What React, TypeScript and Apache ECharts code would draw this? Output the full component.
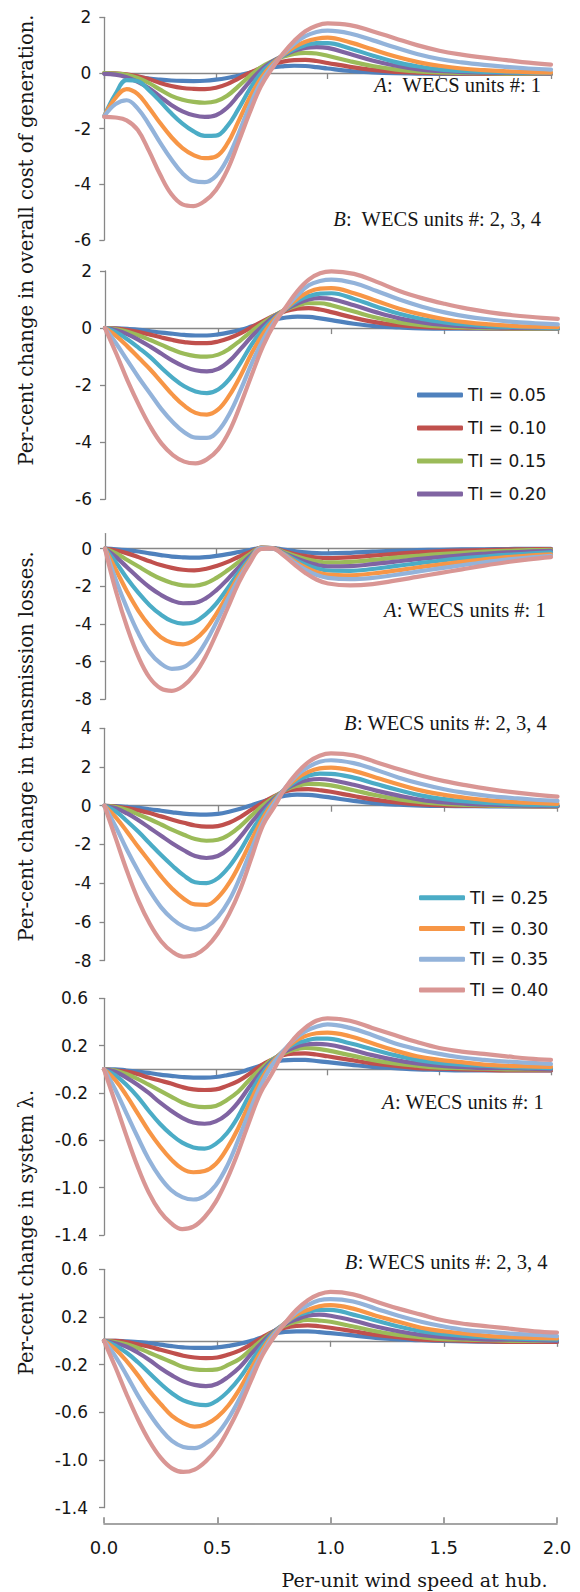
import React, { useEffect, useRef } from "react";
import * as echarts from "echarts";

// Per-unit wind speed at hub (x samples)
const windSpeed = [0, 0.05, 0.1, 0.15, 0.2, 0.25, 0.3, 0.35, 0.4, 0.45, 0.5, 0.55, 0.6, 0.65, 0.7, 0.75, 0.8, 0.85, 0.9, 0.95, 1.0, 1.1, 1.2, 1.3, 1.4, 1.5, 1.6, 1.7, 1.8, 1.9, 2.0];

const tiNames = ["TI = 0.05", "TI = 0.10", "TI = 0.15", "TI = 0.20", "TI = 0.25", "TI = 0.30", "TI = 0.35", "TI = 0.40"];
const tiColors = ["#4F81BD", "#C0504D", "#9BBB59", "#8064A2", "#4BACC6", "#F79646", "#93B3DA", "#D99694"];

// Per-cent change in overall cost of generation, A: WECS unit 1
const costUnit1: number[][] = [
  [-0.02, -0.04, -0.08, -0.14, -0.2, -0.24, -0.27, -0.285, -0.29, -0.28, -0.24, -0.18, -0.1, 0.01, 0.12, 0.2, 0.24, 0.26, 0.25, 0.21, 0.16, 0.07, 0.02, -0.01, -0.02, -0.03, -0.03, -0.03, -0.03, -0.03, -0.03],
  [0, -0.01, -0.05, -0.12, -0.22, -0.36, -0.47, -0.54, -0.57, -0.58, -0.53, -0.4, -0.2, 0.0, 0.18, 0.32, 0.41, 0.46, 0.47, 0.43, 0.36, 0.22, 0.11, 0.04, 0.01, -0.01, -0.02, -0.03, -0.03, -0.03, -0.03],
  [0, -0.02, -0.07, -0.18, -0.36, -0.6, -0.82, -0.96, -1.04, -1.07, -1.02, -0.82, -0.48, -0.12, 0.2, 0.42, 0.58, 0.68, 0.72, 0.7, 0.62, 0.42, 0.25, 0.13, 0.06, 0.02, 0.0, -0.01, -0.02, -0.02, -0.03],
  [-0.03, -0.06, -0.15, -0.32, -0.55, -0.85, -1.15, -1.38, -1.52, -1.58, -1.52, -1.25, -0.8, -0.32, 0.1, 0.4, 0.62, 0.8, 0.9, 0.93, 0.9, 0.68, 0.45, 0.27, 0.14, 0.07, 0.03, 0.01, 0.0, -0.01, -0.02],
  [-1.55, -0.76, -0.26, -0.3, -0.62, -1.02, -1.45, -1.82, -2.1, -2.26, -2.25, -1.92, -1.3, -0.6, -0.02, 0.35, 0.63, 0.85, 1.0, 1.07, 1.07, 0.88, 0.63, 0.4, 0.24, 0.13, 0.07, 0.04, 0.02, 0.01, 0.0],
  [-1.55, -0.9, -0.58, -0.76, -1.25, -1.8, -2.3, -2.7, -2.95, -3.06, -3.0, -2.55, -1.75, -0.9, -0.2, 0.3, 0.65, 0.93, 1.12, 1.23, 1.27, 1.1, 0.85, 0.6, 0.4, 0.26, 0.16, 0.1, 0.06, 0.03, 0.01],
  [-1.55, -1.12, -0.98, -1.28, -1.85, -2.5, -3.1, -3.6, -3.88, -3.92, -3.7, -3.1, -2.2, -1.2, -0.35, 0.22, 0.67, 1.05, 1.32, 1.47, 1.52, 1.42, 1.18, 0.92, 0.68, 0.5, 0.38, 0.29, 0.22, 0.16, 0.12],
  [-1.58, -1.6, -1.7, -2.05, -2.8, -3.65, -4.35, -4.72, -4.78, -4.6, -4.2, -3.5, -2.5, -1.45, -0.5, 0.15, 0.7, 1.15, 1.5, 1.7, 1.78, 1.72, 1.5, 1.25, 1.0, 0.8, 0.66, 0.55, 0.46, 0.37, 0.3],
];

// Per-cent change in overall cost of generation, B: WECS units 2, 3, 4
const costUnits234: number[][] = [
  [0, -0.01, -0.03, -0.06, -0.11, -0.16, -0.2, -0.24, -0.26, -0.26, -0.22, -0.15, -0.06, 0.06, 0.18, 0.3, 0.37, 0.4, 0.39, 0.34, 0.28, 0.15, 0.06, 0.02, -0.01, -0.02, -0.02, -0.02, -0.02, -0.02, -0.02],
  [0, -0.02, -0.07, -0.14, -0.23, -0.33, -0.42, -0.49, -0.53, -0.53, -0.47, -0.35, -0.18, 0.04, 0.25, 0.45, 0.6, 0.68, 0.7, 0.65, 0.56, 0.36, 0.2, 0.1, 0.04, 0.01, 0.0, -0.01, -0.02, -0.02, -0.02],
  [0, -0.04, -0.13, -0.26, -0.42, -0.59, -0.76, -0.9, -0.98, -1.0, -0.93, -0.72, -0.42, -0.1, 0.2, 0.45, 0.65, 0.79, 0.87, 0.87, 0.8, 0.58, 0.36, 0.2, 0.1, 0.05, 0.02, 0.0, -0.01, -0.02, -0.02],
  [0, -0.08, -0.22, -0.42, -0.65, -0.9, -1.15, -1.35, -1.48, -1.52, -1.43, -1.15, -0.72, -0.28, 0.1, 0.42, 0.66, 0.86, 1.0, 1.05, 1.02, 0.8, 0.55, 0.34, 0.2, 0.11, 0.06, 0.03, 0.01, 0.0, -0.01],
  [0, -0.15, -0.4, -0.7, -1.02, -1.4, -1.75, -2.04, -2.22, -2.28, -2.15, -1.78, -1.2, -0.55, -0.03, 0.37, 0.68, 0.95, 1.12, 1.21, 1.22, 1.02, 0.75, 0.5, 0.32, 0.2, 0.12, 0.07, 0.04, 0.02, 0.0],
  [0, -0.28, -0.65, -1.05, -1.45, -1.9, -2.35, -2.72, -2.97, -3.03, -2.85, -2.35, -1.65, -0.85, -0.18, 0.33, 0.7, 1.03, 1.27, 1.38, 1.4, 1.22, 0.95, 0.68, 0.47, 0.31, 0.2, 0.13, 0.08, 0.05, 0.03],
  [0, -0.55, -1.15, -1.75, -2.3, -2.85, -3.3, -3.65, -3.84, -3.85, -3.6, -3.0, -2.15, -1.2, -0.38, 0.25, 0.72, 1.15, 1.5, 1.65, 1.7, 1.58, 1.3, 1.0, 0.75, 0.55, 0.4, 0.3, 0.22, 0.17, 0.13],
  [0, -0.9, -1.85, -2.7, -3.45, -4.05, -4.45, -4.68, -4.74, -4.6, -4.25, -3.6, -2.65, -1.6, -0.6, 0.17, 0.75, 1.3, 1.7, 1.92, 1.99, 1.9, 1.62, 1.3, 1.05, 0.85, 0.68, 0.55, 0.45, 0.38, 0.32],
];

// Per-cent change in transmission losses, A: WECS unit 1
const lossUnit1: number[][] = [
  [0, -0.03, -0.08, -0.15, -0.25, -0.34, -0.42, -0.46, -0.48, -0.45, -0.38, -0.29, -0.18, -0.07, 0.03, 0.03, -0.05, -0.13, -0.2, -0.24, -0.25, -0.22, -0.16, -0.11, -0.08, -0.06, -0.04, -0.03, -0.02, -0.01, -0.01],
  [0, -0.1, -0.25, -0.45, -0.67, -0.87, -1.02, -1.12, -1.15, -1.08, -0.92, -0.7, -0.43, -0.17, 0.03, 0.03, -0.12, -0.28, -0.4, -0.47, -0.5, -0.46, -0.37, -0.28, -0.2, -0.14, -0.1, -0.07, -0.05, -0.03, -0.02],
  [0, -0.25, -0.6, -0.95, -1.3, -1.6, -1.82, -1.95, -1.97, -1.85, -1.55, -1.15, -0.7, -0.28, 0.04, 0.03, -0.17, -0.38, -0.55, -0.67, -0.73, -0.7, -0.6, -0.48, -0.38, -0.29, -0.22, -0.16, -0.12, -0.08, -0.06],
  [0, -0.45, -1.0, -1.55, -2.05, -2.45, -2.75, -2.9, -2.88, -2.65, -2.2, -1.62, -0.98, -0.4, 0.05, 0.03, -0.22, -0.48, -0.7, -0.86, -0.94, -0.93, -0.82, -0.69, -0.56, -0.45, -0.35, -0.27, -0.2, -0.15, -0.12],
  [0, -0.75, -1.6, -2.35, -3.0, -3.5, -3.85, -3.98, -3.9, -3.5, -2.9, -2.1, -1.25, -0.5, 0.05, 0.03, -0.25, -0.58, -0.85, -1.05, -1.16, -1.18, -1.08, -0.93, -0.78, -0.64, -0.52, -0.42, -0.33, -0.26, -0.2],
  [0, -1.15, -2.3, -3.3, -4.1, -4.7, -5.0, -5.08, -4.85, -4.3, -3.45, -2.45, -1.45, -0.6, 0.05, 0.02, -0.28, -0.67, -1.0, -1.25, -1.38, -1.42, -1.32, -1.17, -1.0, -0.85, -0.7, -0.57, -0.45, -0.37, -0.3],
  [0, -1.7, -3.2, -4.5, -5.5, -6.1, -6.38, -6.3, -5.85, -5.0, -3.9, -2.7, -1.6, -0.68, 0.03, 0.01, -0.3, -0.75, -1.12, -1.4, -1.55, -1.62, -1.55, -1.4, -1.22, -1.05, -0.88, -0.72, -0.58, -0.47, -0.38],
  [0, -2.3, -4.2, -5.75, -6.85, -7.42, -7.55, -7.3, -6.7, -5.75, -4.5, -3.15, -1.8, -0.75, -0.02, 0.02, -0.35, -0.85, -1.3, -1.65, -1.85, -1.95, -1.88, -1.7, -1.5, -1.3, -1.1, -0.9, -0.72, -0.57, -0.45],
];

// Per-cent change in transmission losses, B: WECS units 2, 3, 4
const lossUnits234: number[][] = [
  [0, -0.02, -0.06, -0.11, -0.18, -0.26, -0.34, -0.41, -0.45, -0.46, -0.42, -0.31, -0.16, 0.03, 0.22, 0.4, 0.52, 0.57, 0.56, 0.5, 0.42, 0.25, 0.12, 0.05, 0.01, -0.01, -0.02, -0.03, -0.03, -0.03, -0.03],
  [0, -0.04, -0.12, -0.24, -0.38, -0.55, -0.72, -0.88, -1.02, -1.08, -1.05, -0.88, -0.58, -0.2, 0.17, 0.5, 0.75, 0.85, 0.86, 0.8, 0.72, 0.5, 0.3, 0.16, 0.07, 0.02, 0.0, -0.01, -0.02, -0.03, -0.03],
  [0, -0.07, -0.22, -0.45, -0.7, -0.97, -1.25, -1.5, -1.72, -1.81, -1.76, -1.5, -1.05, -0.5, 0.02, 0.45, 0.82, 1.03, 1.13, 1.12, 1.05, 0.8, 0.54, 0.33, 0.18, 0.09, 0.04, 0.01, -0.01, -0.02, -0.03],
  [0, -0.13, -0.4, -0.75, -1.15, -1.55, -1.95, -2.3, -2.6, -2.7, -2.6, -2.22, -1.6, -0.85, -0.18, 0.38, 0.85, 1.16, 1.33, 1.38, 1.33, 1.08, 0.78, 0.52, 0.3, 0.17, 0.1, 0.05, 0.02, 0.0, -0.02],
  [0, -0.3, -0.8, -1.35, -1.95, -2.55, -3.1, -3.6, -3.95, -4.0, -3.75, -3.15, -2.3, -1.3, -0.42, 0.3, 0.88, 1.3, 1.55, 1.66, 1.65, 1.45, 1.12, 0.8, 0.52, 0.34, 0.22, 0.14, 0.08, 0.04, 0.02],
  [0, -0.6, -1.35, -2.15, -2.9, -3.65, -4.3, -4.8, -5.1, -5.12, -4.75, -4.0, -2.95, -1.75, -0.62, 0.25, 0.92, 1.42, 1.75, 1.93, 1.97, 1.8, 1.45, 1.1, 0.78, 0.56, 0.4, 0.28, 0.2, 0.14, 0.1],
  [0, -1.1, -2.3, -3.4, -4.4, -5.25, -5.85, -6.25, -6.4, -6.25, -5.75, -4.9, -3.65, -2.2, -0.85, 0.15, 0.95, 1.58, 2.0, 2.27, 2.35, 2.2, 1.85, 1.45, 1.12, 0.85, 0.65, 0.5, 0.4, 0.31, 0.25],
  [0, -1.7, -3.4, -4.9, -6.1, -7.0, -7.55, -7.8, -7.7, -7.3, -6.6, -5.6, -4.3, -2.65, -1.0, -0.05, 0.95, 1.7, 2.25, 2.58, 2.7, 2.6, 2.25, 1.88, 1.55, 1.27, 1.05, 0.86, 0.7, 0.57, 0.47],
];

// Per-cent change in system lambda, A: WECS unit 1
const lambdaUnit1: number[][] = [
  [0, 0, -0.01, -0.02, -0.03, -0.045, -0.055, -0.065, -0.07, -0.07, -0.065, -0.05, -0.03, 0.0, 0.03, 0.06, 0.075, 0.08, 0.08, 0.07, 0.06, 0.04, 0.02, 0.01, 0, -0.005, -0.01, -0.01, -0.01, -0.01, -0.01],
  [0, -0.01, -0.02, -0.04, -0.07, -0.095, -0.12, -0.15, -0.17, -0.175, -0.17, -0.14, -0.1, -0.04, 0.03, 0.08, 0.12, 0.133, 0.135, 0.125, 0.11, 0.08, 0.05, 0.03, 0.01, 0.005, 0, -0.005, -0.01, -0.01, -0.01],
  [0, -0.01, -0.04, -0.08, -0.13, -0.18, -0.23, -0.28, -0.31, -0.32, -0.31, -0.26, -0.19, -0.09, 0.0, 0.08, 0.13, 0.165, 0.18, 0.175, 0.16, 0.12, 0.08, 0.05, 0.03, 0.015, 0.01, 0.005, 0, 0, 0],
  [0, -0.02, -0.07, -0.13, -0.2, -0.28, -0.35, -0.41, -0.45, -0.46, -0.44, -0.38, -0.28, -0.15, -0.03, 0.07, 0.14, 0.185, 0.21, 0.215, 0.21, 0.17, 0.12, 0.08, 0.05, 0.03, 0.02, 0.01, 0.01, 0.005, 0],
  [0, -0.05, -0.13, -0.23, -0.35, -0.46, -0.55, -0.62, -0.66, -0.67, -0.63, -0.54, -0.4, -0.22, -0.06, 0.06, 0.15, 0.21, 0.24, 0.26, 0.26, 0.22, 0.17, 0.12, 0.08, 0.055, 0.04, 0.03, 0.02, 0.015, 0.01],
  [0, -0.09, -0.22, -0.37, -0.52, -0.65, -0.76, -0.84, -0.87, -0.86, -0.8, -0.67, -0.5, -0.29, -0.1, 0.05, 0.15, 0.23, 0.28, 0.305, 0.31, 0.28, 0.22, 0.16, 0.11, 0.08, 0.06, 0.04, 0.03, 0.025, 0.02],
  [0, -0.17, -0.37, -0.57, -0.76, -0.91, -1.02, -1.08, -1.1, -1.07, -0.98, -0.82, -0.6, -0.36, -0.14, 0.03, 0.15, 0.25, 0.32, 0.36, 0.38, 0.35, 0.29, 0.22, 0.17, 0.13, 0.1, 0.08, 0.065, 0.055, 0.045],
  [0, -0.28, -0.56, -0.82, -1.04, -1.2, -1.3, -1.35, -1.33, -1.25, -1.12, -0.93, -0.7, -0.44, -0.2, -0.04, 0.13, 0.26, 0.35, 0.41, 0.43, 0.41, 0.35, 0.29, 0.23, 0.18, 0.15, 0.13, 0.11, 0.09, 0.08],
];

// Per-cent change in system lambda, B: WECS units 2, 3, 4
const lambdaUnits234: number[][] = [
  [0, 0, -0.005, -0.01, -0.02, -0.032, -0.045, -0.055, -0.06, -0.06, -0.055, -0.042, -0.025, 0.0, 0.03, 0.06, 0.075, 0.08, 0.08, 0.073, 0.065, 0.045, 0.025, 0.012, 0.005, 0, -0.005, -0.008, -0.01, -0.01, -0.01],
  [0, 0, -0.01, -0.03, -0.05, -0.075, -0.1, -0.125, -0.14, -0.145, -0.14, -0.115, -0.08, -0.03, 0.03, 0.08, 0.11, 0.125, 0.13, 0.122, 0.11, 0.08, 0.05, 0.03, 0.01, 0.005, 0, -0.005, -0.01, -0.01, -0.01],
  [0, -0.01, -0.03, -0.06, -0.1, -0.14, -0.18, -0.22, -0.24, -0.245, -0.24, -0.2, -0.15, -0.07, 0.01, 0.08, 0.13, 0.16, 0.175, 0.17, 0.16, 0.12, 0.08, 0.05, 0.03, 0.015, 0.01, 0.005, 0, 0, 0],
  [0, -0.02, -0.05, -0.1, -0.16, -0.23, -0.29, -0.34, -0.37, -0.38, -0.36, -0.3, -0.22, -0.11, -0.01, 0.08, 0.14, 0.18, 0.21, 0.22, 0.21, 0.17, 0.12, 0.08, 0.05, 0.03, 0.02, 0.01, 0.01, 0.005, 0],
  [0, -0.04, -0.1, -0.18, -0.27, -0.36, -0.44, -0.5, -0.53, -0.54, -0.5, -0.42, -0.31, -0.17, -0.04, 0.07, 0.15, 0.21, 0.24, 0.26, 0.26, 0.22, 0.17, 0.12, 0.08, 0.055, 0.04, 0.03, 0.02, 0.015, 0.01],
  [0, -0.07, -0.17, -0.29, -0.42, -0.53, -0.63, -0.69, -0.72, -0.7, -0.64, -0.54, -0.4, -0.23, -0.07, 0.06, 0.15, 0.22, 0.26, 0.29, 0.3, 0.27, 0.21, 0.16, 0.11, 0.08, 0.06, 0.04, 0.03, 0.025, 0.02],
  [0, -0.13, -0.29, -0.46, -0.61, -0.74, -0.84, -0.89, -0.9, -0.86, -0.78, -0.65, -0.48, -0.28, -0.1, 0.05, 0.15, 0.24, 0.3, 0.34, 0.35, 0.33, 0.27, 0.21, 0.16, 0.12, 0.09, 0.075, 0.06, 0.05, 0.04],
  [0, -0.22, -0.45, -0.66, -0.84, -0.98, -1.07, -1.1, -1.08, -1.01, -0.9, -0.74, -0.55, -0.33, -0.12, 0.03, 0.15, 0.26, 0.34, 0.39, 0.41, 0.39, 0.33, 0.27, 0.22, 0.17, 0.14, 0.12, 0.1, 0.08, 0.07],
];

const costTicks = [-6, -4, -2, 0, 2];
const lossATicks = [-8, -6, -4, -2, 0];
const lossBTicks = [-8, -6, -4, -2, 0, 2, 4];
const lambdaTicks = [-1.4, -1.0, -0.6, -0.2, 0.2, 0.6];
const speedTicks = [0, 0.5, 1.0, 1.5, 2.0];

const AXIS = "#878787";
const TXT = "#161616";
const SANS = "DejaVu Sans";
const SERIF = "Liberation Serif";
const TITLE = "DejaVu Serif";

const panels = [
  { data: costUnit1, left: 104.3, top: 17.3, width: 446.7, height: 222.7, min: -6, max: 2, ticks: costTicks, dec: 0 },
  { data: costUnits234, left: 105, top: 271, width: 452.8, height: 228.3, min: -6, max: 2, ticks: costTicks, dec: 0 },
  { data: lossUnit1, left: 105, top: 533.6, width: 446, height: 165.7, min: -8, max: 0.8, ticks: lossATicks, dec: 0 },
  { data: lossUnits234, left: 104.5, top: 728.3, width: 453, height: 232.3, min: -8, max: 4, ticks: lossBTicks, dec: 0 },
  { data: lambdaUnit1, left: 104, top: 998.3, width: 447, height: 236.7, min: -1.4, max: 0.6, ticks: lambdaTicks, dec: 1 },
  { data: lambdaUnits234, left: 104, top: 1269.3, width: 453, height: 238.4, min: -1.4, max: 0.6, ticks: lambdaTicks, dec: 1 },
];

function annotation(right: number, y: number, letter: string, rest: string) {
  return {
    type: "text",
    x: right,
    y,
    style: {
      text: `{i|${letter}}${rest}`,
      fontFamily: SERIF,
      fontSize: 20.5,
      fill: TXT,
      align: "right",
      verticalAlign: "middle",
      rich: {
        i: { fontFamily: SERIF, fontSize: 20.5, fontStyle: "italic", fill: TXT },
      },
    },
  };
}

function title(x: number, y: number, text: string) {
  return {
    type: "text",
    x,
    y,
    rotation: Math.PI / 2,
    style: {
      text,
      fontFamily: TITLE,
      fontSize: 19.5,
      fill: TXT,
      align: "center",
      verticalAlign: "middle",
    },
  };
}

export default function App() {
  const ref = useRef<HTMLDivElement>(null);

  useEffect(() => {
    if (!ref.current) return;
    const chart = echarts.init(ref.current, undefined, { renderer: "svg" });

    const grid: any[] = [];
    const xAxis: any[] = [];
    const yAxis: any[] = [];
    const series: any[] = [];

    panels.forEach((p, i) => {
      grid.push({ left: p.left, top: p.top, width: p.width, height: p.height, containLabel: false });
      xAxis.push({
        gridIndex: i,
        type: "value",
        position: "bottom",
        min: 0,
        max: 2,
        interval: 0.5,
        axisLine: { show: true, onZero: true, lineStyle: { color: AXIS, width: 1.3 } },
        axisTick: { show: true, length: 6, lineStyle: { color: AXIS, width: 1.3 } },
        axisLabel: { show: false },
        splitLine: { show: false },
      });
      yAxis.push({
        gridIndex: i,
        type: "value",
        min: p.min,
        max: p.max,
        axisLine: { show: true, onZero: false, lineStyle: { color: AXIS, width: 1.3 } },
        axisTick: { show: true, length: 5, customValues: p.ticks, lineStyle: { color: AXIS, width: 1.3 } },
        axisLabel: {
          customValues: p.ticks,
          formatter: (v: number) => v.toFixed(p.dec),
          margin: p.dec ? 16 : 13,
          fontFamily: SANS,
          fontSize: 17,
          color: TXT,
        },
        splitLine: { show: false },
      });
      p.data.forEach((vals, k) => {
        series.push({
          type: "line",
          name: tiNames[k],
          xAxisIndex: i,
          yAxisIndex: i,
          data: windSpeed.map((x, j) => [x, vals[j]]),
          smooth: 0.4,
          symbol: "none",
          showSymbol: false,
          silent: true,
          z: 2 + k,
          lineStyle: { width: 4.2, color: tiColors[k], cap: "round", join: "round" },
          itemStyle: { color: tiColors[k] },
          emphasis: { disabled: true },
        });
      });
    });

    // bottom labelled axis of the last panel
    xAxis.push({
      gridIndex: 5,
      type: "value",
      position: "bottom",
      offset: 15.6,
      min: 0,
      max: 2,
      interval: 0.5,
      axisLine: { show: true, onZero: false, lineStyle: { color: AXIS, width: 1.6 } },
      axisTick: { show: true, inside: true, length: 6, customValues: speedTicks, lineStyle: { color: AXIS, width: 1.6 } },
      axisLabel: {
        show: true,
        customValues: speedTicks,
        formatter: (v: number) => v.toFixed(1),
        margin: 15,
        fontFamily: SANS,
        fontSize: 18,
        color: TXT,
      },
      splitLine: { show: false },
    });

    const legendBase = {
      orient: "vertical",
      icon: "roundRect",
      itemWidth: 46,
      itemHeight: 5,
      selectedMode: false,
      textStyle: { fontFamily: SANS, fontSize: 17, color: TXT, lineHeight: 20 },
    };

    chart.setOption({
      animation: false,
      backgroundColor: "#ffffff",
      grid,
      xAxis,
      yAxis,
      series,
      legend: [
        { ...legendBase, data: tiNames.slice(0, 4), left: 412, top: 380, itemGap: 13 },
        { ...legendBase, data: tiNames.slice(4, 8), left: 414, top: 882.7, itemGap: 10.8 },
      ],
      graphic: [
        title(26, 240, "Per-cent change in overall cost of generation."),
        title(26, 746.5, "Per-cent change in transmission losses."),
        title(26, 1232.5, "Per-cent change in system \u03bb."),
        annotation(541, 85, "A", ":  WECS units #: 1"),
        annotation(541, 218.5, "B", ":  WECS units #: 2, 3, 4"),
        annotation(545.7, 610, "A", ": WECS units #: 1"),
        annotation(546.8, 723.3, "B", ": WECS units #: 2, 3, 4"),
        annotation(543.8, 1101.7, "A", ": WECS units #: 1"),
        annotation(547.5, 1261.7, "B", ": WECS units #: 2, 3, 4"),
        {
          type: "text",
          x: 547.5,
          y: 1580,
          style: {
            text: "Per-unit wind speed at hub.",
            fontFamily: TITLE,
            fontSize: 19,
            fill: TXT,
            align: "right",
            verticalAlign: "middle",
          },
        },
      ],
    });

    return () => {
      chart.dispose();
    };
  }, []);

  return (
    <div
      ref={ref}
      style={{ position: "absolute", left: 0, top: 0, width: 580, height: 1592, background: "#fff" }}
    />
  );
}
